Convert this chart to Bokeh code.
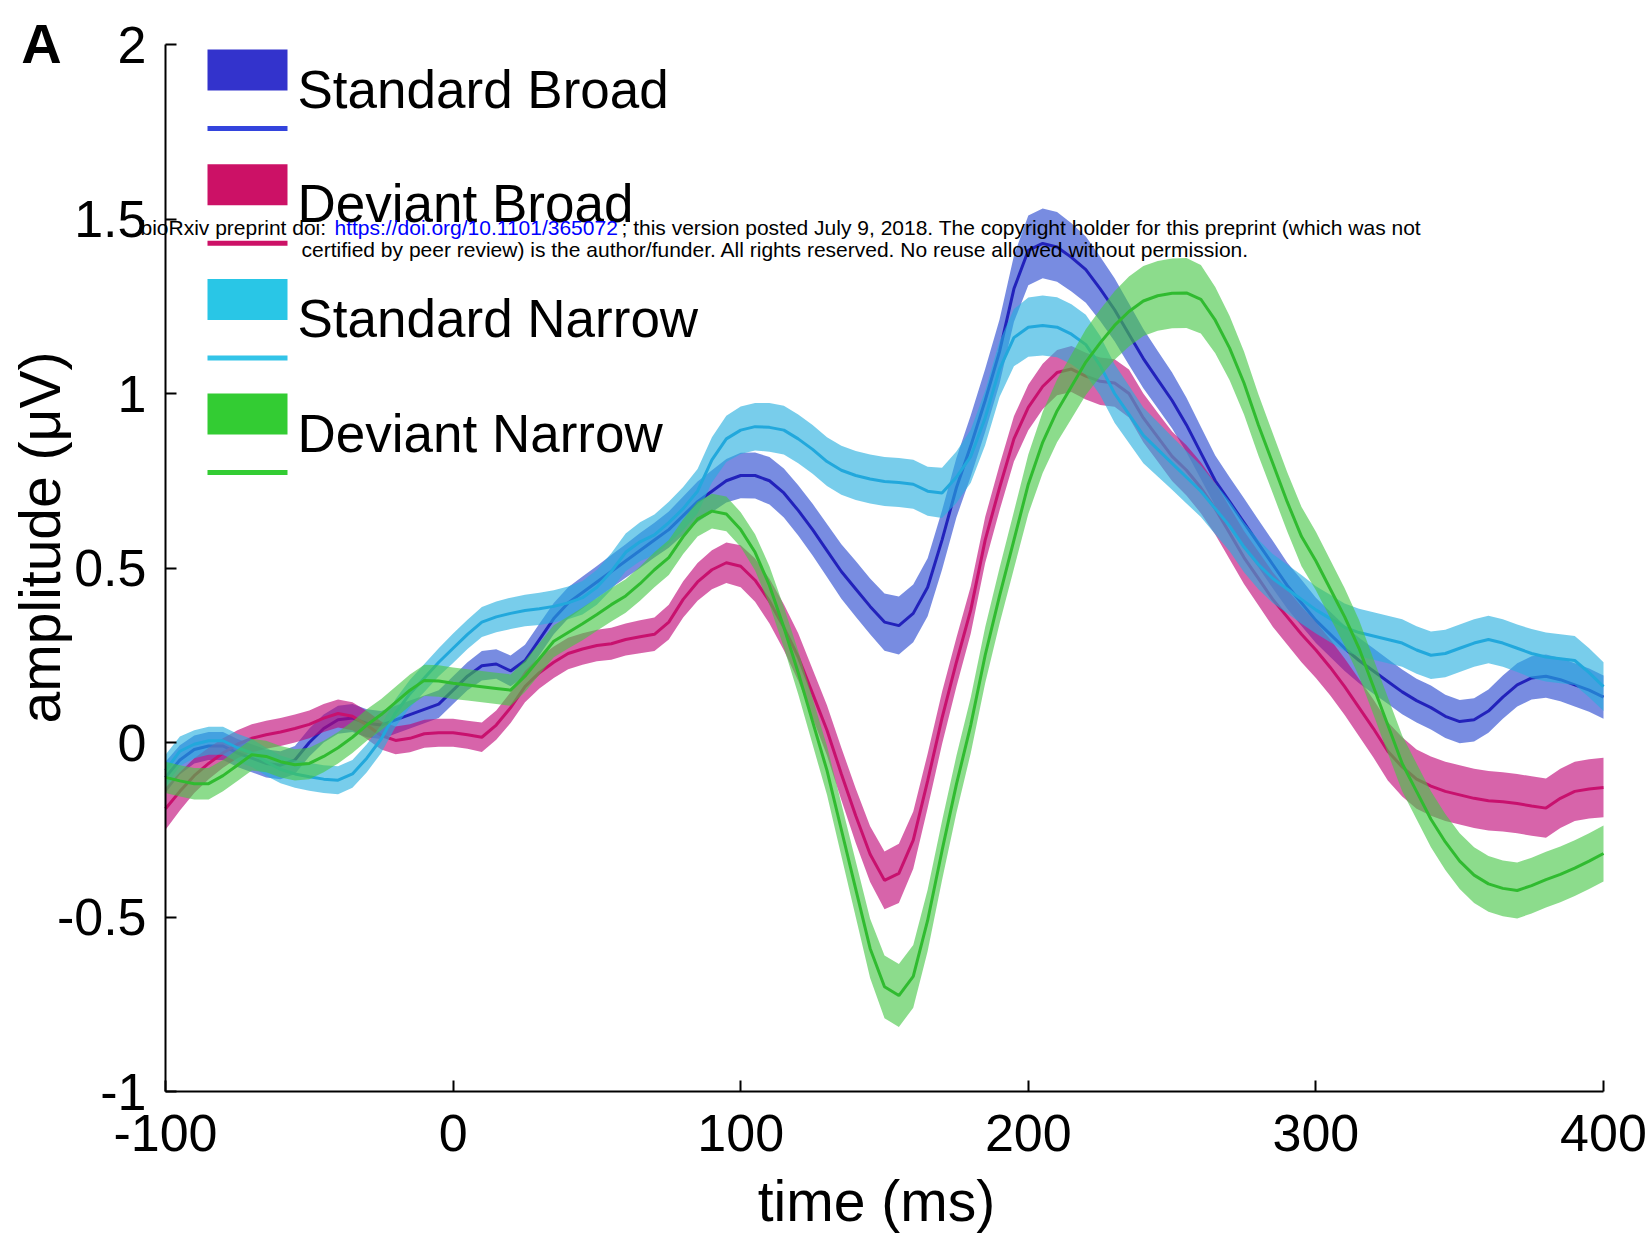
from bokeh.plotting import figure
from bokeh.models import Range1d, FixedTicker, Label
from bokeh.embed import file_html
from bokeh.resources import INLINE

# ---------------- data ----------------
time_ms = list(range(-100, 401, 5))

standard_broad = [
    -0.10, -0.05, -0.02, -0.01, -0.01, -0.03, -0.045, -0.06, -0.065, -0.05,
    0.00, 0.04, 0.065, 0.07, 0.055, 0.05, 0.065, 0.08, 0.095, 0.11,
    0.15, 0.19, 0.22, 0.225, 0.205, 0.235, 0.295, 0.355, 0.40, 0.43,
    0.46, 0.49, 0.52, 0.55, 0.58, 0.61, 0.65, 0.69, 0.72, 0.75,
    0.765, 0.765, 0.75, 0.715, 0.665, 0.61, 0.55, 0.49, 0.44, 0.39,
    0.345, 0.335, 0.37, 0.445, 0.58, 0.73, 0.85, 0.98, 1.12, 1.30,
    1.41, 1.43, 1.42, 1.39, 1.355, 1.30, 1.24, 1.17, 1.10, 1.04,
    0.98, 0.91, 0.83, 0.75, 0.69, 0.63, 0.57, 0.51, 0.45, 0.40,
    0.35, 0.31, 0.27, 0.235, 0.205, 0.175, 0.145, 0.12, 0.10, 0.075,
    0.06, 0.065, 0.09, 0.13, 0.165, 0.185, 0.19, 0.18, 0.165, 0.15,
    0.13,
]
deviant_broad = [
    -0.19, -0.14, -0.095, -0.06, -0.03, -0.005, 0.012, 0.022, 0.03, 0.04,
    0.052, 0.07, 0.083, 0.075, 0.05, 0.02, 0.006, 0.012, 0.025, 0.028,
    0.028, 0.022, 0.015, 0.05, 0.10, 0.16, 0.20, 0.23, 0.255, 0.268,
    0.278, 0.283, 0.295, 0.303, 0.31, 0.345, 0.41, 0.46, 0.495, 0.515,
    0.505, 0.465, 0.405, 0.33, 0.245, 0.14, 0.035, -0.09, -0.21, -0.32,
    -0.395, -0.375, -0.28, -0.11, 0.07, 0.23, 0.38, 0.58, 0.73, 0.87,
    0.96, 1.02, 1.06, 1.07, 1.05, 1.035, 1.03, 1.0, 0.93, 0.875,
    0.82, 0.78, 0.73, 0.67, 0.60, 0.53, 0.47, 0.41, 0.36, 0.31,
    0.265, 0.215, 0.16, 0.10, 0.04, -0.025, -0.07, -0.105, -0.125, -0.14,
    -0.15, -0.16, -0.167, -0.17, -0.175, -0.182, -0.188, -0.16, -0.14, -0.133,
    -0.129,
]
standard_narrow = [
    -0.08, -0.025, -0.005, 0.005, 0.005, -0.015, -0.03, -0.055, -0.077, -0.09,
    -0.098, -0.105, -0.108, -0.09, -0.045, 0.01, 0.085, 0.14, 0.185, 0.23,
    0.27, 0.31, 0.345, 0.36, 0.37, 0.378, 0.383, 0.39, 0.40, 0.415,
    0.445, 0.49, 0.545, 0.575, 0.595, 0.63, 0.67, 0.72, 0.81, 0.87,
    0.895, 0.905, 0.903, 0.895, 0.87, 0.84, 0.805, 0.78, 0.765, 0.755,
    0.748, 0.745, 0.74, 0.72, 0.715, 0.76, 0.82, 0.93, 1.07, 1.16,
    1.19, 1.195, 1.19, 1.17, 1.14, 1.08, 1.0, 0.94, 0.88, 0.84,
    0.80, 0.76, 0.72, 0.67, 0.62, 0.56, 0.51, 0.47, 0.44, 0.41,
    0.38, 0.355, 0.33, 0.315, 0.305, 0.295, 0.285, 0.265, 0.25, 0.255,
    0.27, 0.285, 0.295, 0.285, 0.27, 0.255, 0.245, 0.24, 0.235, 0.20,
    0.16,
]
deviant_narrow = [
    -0.10, -0.11, -0.118, -0.118, -0.095, -0.065, -0.035, -0.04, -0.055, -0.064,
    -0.06, -0.04, -0.015, 0.015, 0.05, 0.08, 0.115, 0.15, 0.178, 0.176,
    0.17, 0.165, 0.16, 0.155, 0.15, 0.19, 0.24, 0.29, 0.315, 0.34,
    0.367, 0.395, 0.42, 0.455, 0.495, 0.53, 0.59, 0.64, 0.663, 0.655,
    0.61, 0.545, 0.45, 0.33, 0.20, 0.06, -0.08, -0.25, -0.42, -0.59,
    -0.70, -0.725, -0.67, -0.51, -0.31, -0.12, 0.05, 0.25, 0.42, 0.58,
    0.74, 0.86, 0.95, 1.02, 1.09, 1.145, 1.195, 1.235, 1.265, 1.28,
    1.287, 1.288, 1.27, 1.21, 1.13, 1.03, 0.91, 0.80, 0.69, 0.59,
    0.52, 0.44, 0.36, 0.27, 0.16, 0.05, -0.06, -0.14, -0.22, -0.285,
    -0.34, -0.38, -0.405, -0.418, -0.424, -0.41, -0.393, -0.378, -0.36, -0.34,
    -0.318,
]

# standard error half-widths of the shaded bands
sem_standard_broad = [
    0.045, 0.042, 0.04, 0.04, 0.04, 0.04, 0.04, 0.04, 0.04, 0.04,
    0.04, 0.04, 0.04, 0.04, 0.04, 0.04, 0.04, 0.04, 0.04, 0.04,
    0.04, 0.04, 0.042, 0.042, 0.044, 0.045, 0.045, 0.045, 0.045, 0.046,
    0.046, 0.047, 0.048, 0.05, 0.05, 0.052, 0.055, 0.058, 0.06, 0.062,
    0.065, 0.066, 0.068, 0.07, 0.072, 0.074, 0.076, 0.078, 0.08, 0.08,
    0.082, 0.083, 0.083, 0.083, 0.085, 0.085, 0.088, 0.09, 0.092, 0.095,
    0.10, 0.10, 0.10, 0.098, 0.095, 0.092, 0.09, 0.088, 0.085, 0.082,
    0.08, 0.078, 0.075, 0.072, 0.07, 0.07, 0.068, 0.068, 0.066, 0.066,
    0.065, 0.065, 0.065, 0.065, 0.065, 0.064, 0.064, 0.063, 0.063, 0.062,
    0.062, 0.062, 0.062, 0.062, 0.062, 0.062, 0.062, 0.062, 0.062, 0.062,
    0.062,
]
sem_deviant_broad = [
    0.06, 0.055, 0.05, 0.045, 0.042, 0.04, 0.04, 0.04, 0.04, 0.04,
    0.04, 0.04, 0.04, 0.04, 0.04, 0.04, 0.04, 0.04, 0.04, 0.04,
    0.04, 0.04, 0.042, 0.042, 0.044, 0.045, 0.045, 0.045, 0.045, 0.045,
    0.045, 0.046, 0.046, 0.047, 0.048, 0.05, 0.052, 0.054, 0.056, 0.058,
    0.06, 0.062, 0.064, 0.066, 0.068, 0.07, 0.072, 0.075, 0.078, 0.08,
    0.083, 0.085, 0.082, 0.078, 0.075, 0.07, 0.068, 0.066, 0.065, 0.065,
    0.065, 0.065, 0.065, 0.066, 0.067, 0.068, 0.068, 0.069, 0.07, 0.07,
    0.071, 0.072, 0.073, 0.074, 0.075, 0.076, 0.077, 0.078, 0.079, 0.08,
    0.08, 0.08, 0.081, 0.082, 0.083, 0.084, 0.085, 0.085, 0.085, 0.085,
    0.085, 0.085, 0.085, 0.085, 0.085, 0.085, 0.085, 0.085, 0.085, 0.085,
    0.085,
]
sem_standard_narrow = [
    0.045, 0.042, 0.04, 0.04, 0.04, 0.04, 0.04, 0.04, 0.04, 0.04,
    0.04, 0.04, 0.04, 0.04, 0.04, 0.04, 0.04, 0.04, 0.04, 0.04,
    0.042, 0.042, 0.043, 0.044, 0.045, 0.045, 0.046, 0.046, 0.047, 0.048,
    0.05, 0.052, 0.054, 0.056, 0.058, 0.06, 0.062, 0.064, 0.065, 0.066,
    0.068, 0.068, 0.07, 0.07, 0.07, 0.07, 0.07, 0.07, 0.07, 0.07,
    0.07, 0.07, 0.07, 0.07, 0.072, 0.074, 0.076, 0.078, 0.08, 0.082,
    0.085, 0.086, 0.086, 0.086, 0.086, 0.085, 0.084, 0.082, 0.08, 0.078,
    0.076, 0.075, 0.074, 0.073, 0.072, 0.072, 0.071, 0.07, 0.07, 0.07,
    0.068, 0.068, 0.068, 0.068, 0.068, 0.068, 0.068, 0.068, 0.068, 0.068,
    0.068, 0.068, 0.068, 0.068, 0.068, 0.07, 0.07, 0.07, 0.07, 0.07,
    0.07,
]
sem_deviant_narrow = [
    0.045, 0.045, 0.045, 0.045, 0.045, 0.045, 0.045, 0.045, 0.045, 0.045,
    0.045, 0.045, 0.045, 0.045, 0.045, 0.045, 0.045, 0.045, 0.045, 0.045,
    0.045, 0.045, 0.045, 0.045, 0.045, 0.045, 0.045, 0.046, 0.046, 0.047,
    0.047, 0.048, 0.048, 0.049, 0.05, 0.05, 0.05, 0.05, 0.05, 0.05,
    0.05, 0.052, 0.055, 0.058, 0.062, 0.066, 0.07, 0.075, 0.08, 0.085,
    0.09, 0.09, 0.09, 0.088, 0.085, 0.082, 0.08, 0.08, 0.08, 0.082,
    0.085, 0.088, 0.09, 0.092, 0.094, 0.096, 0.098, 0.10, 0.10, 0.10,
    0.10, 0.10, 0.098, 0.095, 0.092, 0.09, 0.088, 0.086, 0.085, 0.085,
    0.084, 0.083, 0.082, 0.081, 0.08, 0.08, 0.08, 0.08, 0.08, 0.08,
    0.08, 0.08, 0.08, 0.08, 0.08, 0.08, 0.08, 0.08, 0.08, 0.08,
    0.08,
]

series_names = ["Standard Broad", "Deviant Broad", "Standard Narrow", "Deviant Narrow"]
x_ticks = [-100, 0, 100, 200, 300, 400]
x_tick_labels = ["-100", "0", "100", "200", "300", "400"]
y_ticks = [-1, -0.5, 0, 0.5, 1, 1.5, 2]
y_tick_labels = ["-1", "-0.5", "0", "0.5", "1", "1.5", "2"]

# ---------------- styles ----------------
band_colors = ["#2545ce", "#be0576", "#25aedf", "#45c645"]
line_colors = ["#2222bb", "#c8116e", "#22a8dc", "#30bb30"]
legend_patch_colors = ["#3333cc", "#cc1166", "#29c6e6", "#33cc33"]
legend_line_colors = ["#3344dd", "#cc1166", "#33c4e8", "#33cc33"]
FONT = "Liberation Sans"

# canvas geometry (pixels); the data box occupies FL..FR x FT..FB
W, H = 1648, 1236
FL, FR, FT, FB = 165, 1603, 44, 1091
X0, X1, Y0, Y1 = -100, 400, -1, 2
BASE_SHIFT = 0.365  # em offset between requested and drawn alphabetic baseline


def dx(px):
    return X0 + (px - FL) * (X1 - X0) / (FR - FL)


def dy(py):
    return Y1 - (py - FT) * (Y1 - Y0) / (FB - FT)


def add_text(px, py, txt, size, color="black", align="left", angle=0.0, style="normal"):
    """Place text whose alphabetic baseline sits at canvas pixel (px, py)."""
    off = BASE_SHIFT * size
    if angle:
        px = px - off
    else:
        py = py - off
    p.add_layout(Label(x=dx(px), y=dy(py), text=txt, text_font=FONT,
                       text_font_size=f"{size}px", text_color=color,
                       text_font_style=style, text_align=align,
                       text_baseline="alphabetic", angle=angle))


p = figure(width=W, height=H, title=None,
           x_range=Range1d(dx(0), dx(W)), y_range=Range1d(dy(H), dy(0)),
           output_backend="svg", toolbar_location=None,
           min_border=0, min_border_left=0, min_border_right=0,
           min_border_top=0, min_border_bottom=0)
p.outline_line_color = None
p.grid.visible = False
p.background_fill_color = "white"
p.border_fill_color = "white"

for ax in (p.xaxis[0], p.yaxis[0]):
    ax.axis_line_color = "black"
    ax.axis_line_width = 2
    ax.major_tick_line_color = "black"
    ax.major_tick_line_width = 2
    ax.major_tick_in = 11
    ax.major_tick_out = 0
    ax.minor_tick_line_color = None
    ax.major_label_text_font = FONT
    ax.major_label_text_font_size = "52px"
    ax.major_label_text_color = "black"

p.xaxis.fixed_location = Y0
p.xaxis.bounds = (X0, X1)
p.xaxis.ticker = FixedTicker(ticks=x_ticks)
p.xaxis.major_label_overrides = {t: s for t, s in zip(x_ticks, x_tick_labels)}
p.xaxis.major_label_standoff = 23

p.yaxis.fixed_location = X0
p.yaxis.bounds = (Y0, Y1)
p.yaxis.ticker = FixedTicker(ticks=y_ticks)
p.yaxis.major_label_overrides = {t: s for t, s in zip(y_ticks, y_tick_labels)}
p.yaxis.major_label_standoff = 19

all_means = [standard_broad, deviant_broad, standard_narrow, deviant_narrow]
all_sems = [sem_standard_broad, sem_deviant_broad, sem_standard_narrow, sem_deviant_narrow]

for mean, sem, bc, lc in zip(all_means, all_sems, band_colors, line_colors):
    lo = [m - s for m, s in zip(mean, sem)]
    hi = [m + s for m, s in zip(mean, sem)]
    p.varea(x=time_ms, y1=lo, y2=hi, fill_color=bc, fill_alpha=0.62)
    p.line(time_ms, mean, line_color=lc, line_width=3)

# legend (MATLAB style: patch above line, label to the right)
for i, name in enumerate(series_names):
    top = 49 + i * 114.7
    p.quad(left=dx(207), right=dx(287), top=dy(top), bottom=dy(top + 41),
           fill_color=legend_patch_colors[i], line_color=None)
    p.segment(x0=dx(207), x1=dx(287), y0=dy(top + 79), y1=dy(top + 79),
              line_color=legend_line_colors[i], line_width=5)
    add_text(297, top + 59, name, 53)

# axis titles and panel letter
add_text(876, 1221, "time (ms)", 57, align="center")
add_text(60, 537, "amplitude (μV)", 57, align="center", angle=1.5707963)
add_text(41, 63, "A", 56, align="center", style="bold")

# bioRxiv watermark
wm = [
    (140, 235, "bioRxiv preprint doi: ", "black"),
    (334, 235, "https://doi.org/10.1101/365072", "#0000ff"),
    (621, 235, "; this version posted July 9, 2018. The copyright holder for this preprint (which was not", "black"),
    (301, 257, "certified by peer review) is the author/funder. All rights reserved. No reuse allowed without permission.", "black"),
]
for px, py, txt, col in wm:
    add_text(px, py, txt, 21, color=col)

open("out.html", "w").write(file_html(p, INLINE))
